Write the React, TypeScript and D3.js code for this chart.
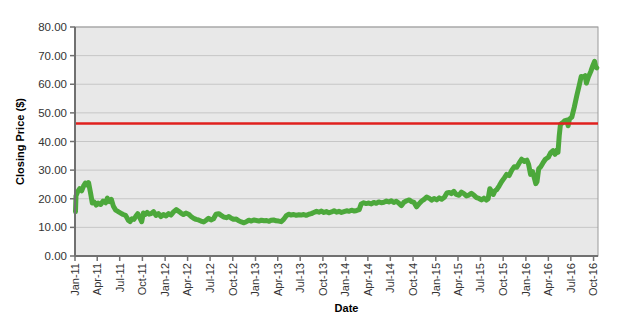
import React from "react";
import * as d3 from "d3";

const dates: string[] = [
  "2011-01-03","2011-01-05","2011-01-12","2011-01-20","2011-01-28","2011-02-05","2011-02-12","2011-02-20","2011-02-25",
  "2011-03-05","2011-03-12","2011-03-20","2011-03-28","2011-04-05","2011-04-15","2011-04-25","2011-05-05","2011-05-12",
  "2011-05-20","2011-05-28","2011-06-05","2011-06-15","2011-06-25","2011-07-05","2011-07-15","2011-07-25","2011-08-05",
  "2011-08-12","2011-08-20","2011-08-28","2011-09-05","2011-09-12","2011-09-20","2011-09-28","2011-10-05","2011-10-12",
  "2011-10-20","2011-10-28","2011-11-05","2011-11-15","2011-11-25","2011-12-05","2011-12-15","2011-12-25",
  "2012-01-05","2012-01-15","2012-01-25","2012-02-05","2012-02-15","2012-02-25","2012-03-05","2012-03-15","2012-03-25",
  "2012-04-05","2012-04-15","2012-04-25","2012-05-05","2012-05-15","2012-05-25","2012-06-05","2012-06-15","2012-06-25",
  "2012-07-05","2012-07-15","2012-07-25","2012-08-05","2012-08-15","2012-08-25","2012-09-05","2012-09-15","2012-09-25",
  "2012-10-05","2012-10-15","2012-10-25","2012-11-05","2012-11-15","2012-11-25","2012-12-05","2012-12-15","2012-12-25",
  "2013-01-05","2013-01-15","2013-01-25","2013-02-05","2013-02-15","2013-02-25","2013-03-05","2013-03-15","2013-03-25",
  "2013-04-05","2013-04-15","2013-04-25","2013-05-05","2013-05-15","2013-05-25","2013-06-05","2013-06-15","2013-06-25",
  "2013-07-05","2013-07-15","2013-07-25","2013-08-05","2013-08-15","2013-08-25","2013-09-05","2013-09-15","2013-09-25",
  "2013-10-05","2013-10-15","2013-10-25","2013-11-05","2013-11-15","2013-11-25","2013-12-05","2013-12-15","2013-12-25",
  "2014-01-05","2014-01-15","2014-01-25","2014-02-05","2014-02-15","2014-02-25","2014-03-05","2014-03-15","2014-03-25",
  "2014-04-05","2014-04-15","2014-04-25","2014-05-05","2014-05-15","2014-05-25","2014-06-05","2014-06-15","2014-06-25",
  "2014-07-05","2014-07-15","2014-07-25","2014-08-05","2014-08-15","2014-08-25","2014-09-05","2014-09-15","2014-09-25",
  "2014-10-05","2014-10-15","2014-10-25","2014-11-05","2014-11-15","2014-11-25","2014-12-05","2014-12-15","2014-12-25",
  "2015-01-05","2015-01-15","2015-01-25","2015-02-05","2015-02-15","2015-02-25","2015-03-05","2015-03-15","2015-03-25",
  "2015-04-05","2015-04-15","2015-04-25","2015-05-05","2015-05-15","2015-05-25","2015-06-05","2015-06-15","2015-06-25",
  "2015-07-05","2015-07-15","2015-07-25","2015-08-01","2015-08-08","2015-08-15","2015-08-22","2015-08-29","2015-09-05",
  "2015-09-15","2015-09-25","2015-10-05","2015-10-15","2015-10-25","2015-11-05","2015-11-15","2015-11-25","2015-12-05",
  "2015-12-15","2015-12-25","2016-01-05","2016-01-12","2016-01-20","2016-01-28","2016-02-05","2016-02-10","2016-02-15",
  "2016-02-22","2016-03-01","2016-03-10","2016-03-20","2016-04-01","2016-04-10","2016-04-20","2016-04-28","2016-05-05",
  "2016-05-10","2016-05-15","2016-05-20","2016-05-28","2016-06-05","2016-06-15","2016-06-20","2016-06-25","2016-07-05",
  "2016-07-15","2016-07-25","2016-08-05","2016-08-12","2016-08-20","2016-08-28","2016-09-02","2016-09-10","2016-09-20",
  "2016-09-28","2016-10-05","2016-10-10","2016-10-14"
];

const prices: number[] = [
  15.5,21,22.5,23.5,22.8,24.5,25.5,24.8,25.6,
  22,18.5,18.8,17.8,18.5,18,19.2,18.6,20.2,
  19,19.8,17.5,16,15.5,15,14.5,14.2,12.5,
  12,13,12.8,14,14.8,13.5,12,15,14.5,
  15.2,14.6,14.8,15.5,14.2,14.8,13.8,14.5,
  14,14.8,14.3,15.5,16.2,15.6,15,14.5,15,
  14.6,13.8,13.2,12.8,12.6,12.2,11.9,12.5,13.2,
  12.6,13,14.6,14.8,14.2,13.6,13.4,13.8,13.2,
  12.8,12.9,12.3,11.9,11.6,12,12.5,12.2,12.6,
  12.4,12.2,12.5,12.3,12.4,12.1,12.5,12.6,12.3,
  12.2,12,12.8,14,14.6,14.3,14.5,14.2,14.4,
  14.3,14.5,14.2,14.6,14.8,15.2,15.6,15.3,15.7,
  15.2,15.5,15.1,15.4,15.8,15.3,15.6,15.2,15.5,
  15.8,15.6,16,15.7,15.9,16.2,18.2,18.6,18.3,
  18.5,18.2,18.7,18.4,18.9,18.6,18.8,19.2,18.9,
  19.3,18.7,19.1,18.4,17.6,18.8,19.3,19.6,19,
  18.7,17.2,18.2,19.2,19.8,20.6,20.2,19.5,20.1,
  19.6,20.3,19.8,20.5,22,22.2,21.8,22.6,21.5,
  21.2,22.3,21.8,21,21.3,21.9,21.2,20.4,20.1,
  19.6,20.2,19.5,20,23.5,22.6,21.5,22.8,23.2,
  24.5,26,27.2,28.5,28.1,30,31.2,31,32.5,
  33.8,33,33.5,32,28.5,29.5,27,25.3,26,
  30.5,31.2,32.5,33.8,34.5,36,36.8,35.5,37,
  36.2,42,46,46.5,47.2,47.5,45.5,47.8,48.5,
  52,56,60,62.7,62.5,63,60.4,62.5,64.5,
  66.5,68,66,65.7
];

const yTicks: number[] = [0, 10, 20, 30, 40, 50, 60, 70, 80];
const referenceLevel = 46.3;
const xStart = "2011-01-01";
const xEnd = "2016-10-19";

export default function App() {
  const W = 622, H = 320;
  const L = 75, R = 598, T = 27, B = 256;
  const parse = d3.timeParse("%Y-%m-%d");
  const data = dates.map((d, i) => ({ date: parse(d) as Date, v: prices[i] }));
  const x = d3.scaleTime().domain([parse(xStart) as Date, parse(xEnd) as Date]).range([L, R]);
  const y = d3.scaleLinear().domain([0, 80]).range([B, T]);
  const xTicks = d3.timeMonth.every(3)!.range(parse(xStart) as Date, parse(xEnd) as Date);
  const fmt = d3.timeFormat("%b-%y");
  const line = d3.line<{ date: Date; v: number }>().x(d => x(d.date)).y(d => y(d.v)).curve(d3.curveLinear);
  const font = "Arial, 'Liberation Sans', sans-serif";

  return (
    <svg width={W} height={H} style={{ position: "absolute", left: 0, top: 0 }} fontFamily={font}>
      <rect x={0} y={0} width={W} height={H} fill="#ffffff" />
      <rect x={L} y={T} width={R - L} height={B - T} fill="#e8e8e8" />
      {yTicks.map(t => (
        <line key={"g" + t} x1={L} x2={R} y1={y(t)} y2={y(t)} stroke="#c6c6c6" strokeWidth={1} />
      ))}
      <rect x={L} y={T} width={R - L} height={B - T} fill="none" stroke="#9a9a9a" strokeWidth={1} />
      <path d={line(data) || ""} fill="none" stroke="#4ca83b" strokeWidth={5} strokeLinejoin="round" strokeLinecap="round" />
      <line x1={L} x2={R} y1={y(referenceLevel)} y2={y(referenceLevel)} stroke="#e0201e" strokeWidth={2.5} />
      <line x1={L} x2={L} y1={T} y2={B} stroke="#707070" strokeWidth={2} />
      <line x1={L} x2={R} y1={B} y2={B} stroke="#707070" strokeWidth={2} />
      {yTicks.map(t => (
        <g key={"y" + t}>
          <line x1={L - 5} x2={L} y1={y(t)} y2={y(t)} stroke="#707070" strokeWidth={1.5} />
          <text x={L - 8} y={y(t)} dy="0.35em" textAnchor="end" fontSize={11.5} fill="#333">
            {t.toFixed(2)}
          </text>
        </g>
      ))}
      {xTicks.map((t, i) => (
        <g key={"x" + i}>
          <line x1={x(t)} x2={x(t)} y1={B} y2={B + 5} stroke="#707070" strokeWidth={1.5} />
          <text transform={`translate(${x(t)},${B + 7}) rotate(-90)`} dy="0.35em" textAnchor="end" fontSize={11} fill="#333">
            {fmt(t)}
          </text>
        </g>
      ))}
      <text x={(L + R) / 2 + 10} y={312} textAnchor="middle" fontSize={11} fontWeight="bold" fill="#000">Date</text>
      <text transform={`translate(24,${(T + B) / 2}) rotate(-90)`} textAnchor="middle" fontSize={11} fontWeight="bold" fill="#000">
        Closing Price ($)
      </text>
    </svg>
  );
}
